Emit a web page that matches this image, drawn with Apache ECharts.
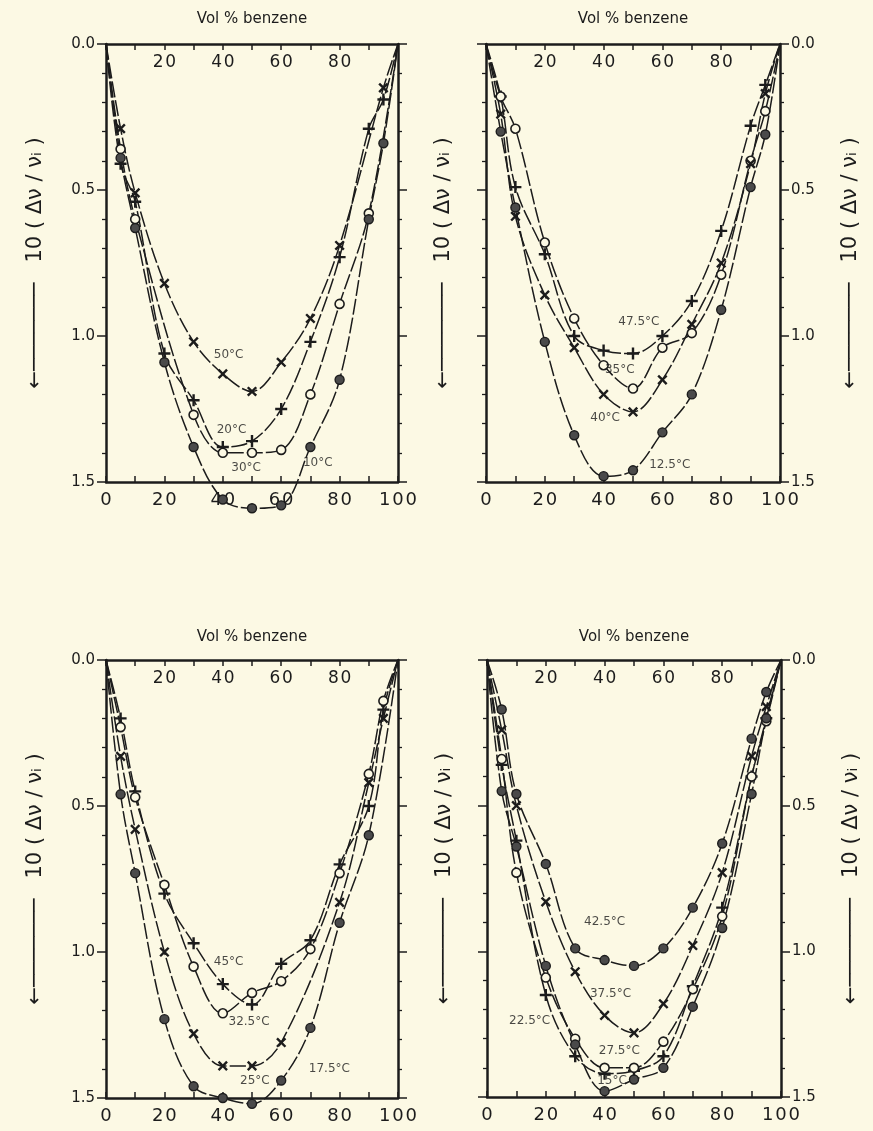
<!DOCTYPE html>
<html>
<head>
<meta charset="utf-8">
<script src="https://cdn.jsdelivr.net/npm/echarts/dist/echarts.min.js"></script>
<style>
  html, body { margin: 0; padding: 0; background: #fcf9e4; }
  #chart { width: 873px; height: 1131px; }
</style>
</head>
<body>
<div id="chart"></div>
<script>
  // vol % benzene where points were measured
  var volPct = [5, 10, 20, 30, 40, 50, 60, 70, 80, 90, 95];

  // top left panel
  var a50 = [0.29, 0.51, 0.82, 1.02, 1.13, 1.19, 1.09, 0.94, 0.69, null, 0.15];
  var a20 = [0.41, 0.54, 1.06, 1.22, 1.38, 1.36, 1.25, 1.02, 0.73, 0.29, 0.19];
  var a30 = [0.36, 0.60, null, 1.27, 1.40, 1.40, 1.39, 1.20, 0.89, 0.58, null];
  var a10 = [0.39, 0.63, 1.09, 1.38, 1.56, 1.59, 1.58, 1.38, 1.15, 0.60, 0.34];

  // top right panel
  var b475 = [0.18, 0.49, 0.72, 1.00, 1.05, 1.06, 1.00, 0.88, 0.64, 0.28, 0.14];
  var b35 = [0.18, 0.29, 0.68, 0.94, 1.10, 1.18, 1.04, 0.99, 0.79, 0.40, 0.23];
  var b40 = [0.24, 0.59, 0.86, 1.04, 1.20, 1.26, 1.15, 0.96, 0.75, 0.41, 0.17];
  var b125 = [0.30, 0.56, 1.02, 1.34, 1.48, 1.46, 1.33, 1.20, 0.91, 0.49, 0.31];

  // bottom left panel
  var c45 = [0.20, 0.45, 0.80, 0.97, 1.11, 1.18, 1.04, 0.96, 0.70, 0.50, 0.17];
  var c325 = [0.23, 0.47, 0.77, 1.05, 1.21, 1.14, 1.10, 0.99, 0.73, 0.39, 0.14];
  var c25 = [0.33, 0.58, 1.00, 1.28, 1.39, 1.39, 1.31, null, 0.83, 0.42, 0.20];
  var c175 = [0.46, 0.73, 1.23, 1.46, 1.50, 1.52, 1.44, 1.26, 0.90, 0.60, null];

  // bottom right panel
  var d425 = [0.17, 0.46, 0.70, 0.99, 1.03, 1.05, 0.99, 0.85, 0.63, 0.27, 0.11];
  var d375 = [0.24, 0.50, 0.83, 1.07, 1.22, 1.28, 1.18, 0.98, 0.73, 0.33, 0.16];
  var d225 = [0.36, 0.62, 1.15, 1.36, 1.42, 1.41, 1.36, 1.12, 0.85, 0.40, 0.20];
  var d275 = [0.34, 0.73, 1.09, 1.30, 1.40, 1.40, 1.31, 1.13, 0.88, 0.40, 0.21];
  var d15 = [0.45, 0.64, 1.05, 1.32, 1.48, 1.44, 1.40, 1.19, 0.92, 0.46, 0.20];

  var yTicks = [0.0, 0.5, 1.0, 1.5];
  var xTitle = 'Vol % benzene';
  var yTitle = '\u2190\u2500\u2500\u2500\u2500\u2500\u2500\u2500   10 ( \u0394\u03bd / \u03bd\u1d62 )';

  // curve labels: [text, vol %, value] per panel
  var tags = [
    [['50°C', 42, 1.065], ['20°C', 43, 1.32], ['30°C', 48, 1.45], ['10°C', 72.5, 1.435]],
    [['47.5°C', 52, 0.95], ['35°C', 45.5, 1.115], ['40°C', 40.5, 1.28], ['12.5°C', 62.5, 1.44]],
    [['45°C', 42, 1.035], ['32.5°C', 49, 1.24], ['25°C', 51, 1.44], ['17.5°C', 76.5, 1.40]],
    [['42.5°C', 40, 0.9], ['37.5°C', 42, 1.147], ['22.5°C', 14.5, 1.24], ['27.5°C', 45, 1.34], ['15°C', 42.5, 1.445]]
  ];

  var ink = '#1c1c1c';
  var paper = '#fcf9e4';
  var font = 'DejaVu Sans';

  var grids = [
    {left: 106, top: 44, width: 292, height: 438},
    {left: 486, top: 44, width: 294, height: 438},
    {left: 106, top: 660, width: 292, height: 438},
    {left: 487, top: 660, width: 294, height: 437}
  ];

  // marker shapes
  var plusPath = 'path://M4,0H6V4H10V6H6V10H4V6H0V4H4Z';
  var marks = {
    plus: {symbol: plusPath, symbolSize: 12, symbolRotate: 0, itemStyle: {color: ink}},
    cross: {symbol: plusPath, symbolSize: 12, symbolRotate: 45, itemStyle: {color: ink}},
    open: {symbol: 'circle', symbolSize: 9, symbolRotate: 0, itemStyle: {color: paper, borderColor: ink, borderWidth: 1.6}},
    dot: {symbol: 'circle', symbolSize: 9, symbolRotate: 0, itemStyle: {color: '#4a4a4a', borderColor: ink, borderWidth: 1.4}}
  };

  function spaced(v) {
    return String(v).split('').join('\u200a');
  }

  function curve(name, vals, mark, g) {
    var pts = [{value: [0, 0], symbol: 'none'}];
    for (var i = 0; i < volPct.length; i++) {
      if (vals[i] != null) pts.push([volPct[i], vals[i]]);
    }
    pts.push({value: [100, 0], symbol: 'none'});
    var m = marks[mark];
    return {
      name: name,
      type: 'line',
      xAxisIndex: 2 * g,
      yAxisIndex: 2 * g,
      smooth: 0.35,
      clip: false,
      symbol: m.symbol,
      symbolSize: m.symbolSize,
      symbolRotate: m.symbolRotate,
      itemStyle: m.itemStyle,
      lineStyle: {color: ink, width: 1.5, type: [16, 3]},
      data: pts,
      z: 3
    };
  }

  function tagSeries(g) {
    return {
      type: 'scatter',
      xAxisIndex: 2 * g,
      yAxisIndex: 2 * g,
      clip: false,
      symbolSize: 1,
      itemStyle: {color: 'transparent'},
      label: {
        show: true,
        position: 'inside',
        formatter: function(p) { return p.data[0]; },
        fontFamily: font,
        fontSize: 12,
        color: ink
      },
      encode: {x: 1, y: 2},
      data: tags[g],
      z: 4
    };
  }

  var axisLine = {show: true, onZero: false, lineStyle: {color: ink, width: 2.5}};

  var xAxis = [];
  var yAxis = [];
  grids.forEach(function(gr, g) {
    xAxis.push({
      gridIndex: g, type: 'value', position: 'bottom', min: 0, max: 100, interval: 10,
      axisLine: axisLine,
      axisTick: {inside: true, length: 6, lineStyle: {color: ink, width: 1.5}},
      splitLine: {show: false},
      axisLabel: {
        formatter: function(v) { return v % 20 === 0 ? spaced(v) : ''; },
        fontFamily: font, fontSize: 18, color: ink, margin: 9
      }
    });
    xAxis.push({
      gridIndex: g, type: 'value', position: 'top', min: 0, max: 100, interval: 10,
      axisLine: axisLine,
      axisTick: {inside: true, length: 6, lineStyle: {color: ink, width: 1.5}},
      splitLine: {show: false},
      axisLabel: {
        inside: true,
        formatter: function(v) { return (v % 20 === 0 && v > 0 && v < 100) ? spaced(v) : ''; },
        fontFamily: font, fontSize: 17, color: ink, margin: 10
      },
      name: xTitle, nameLocation: 'middle', nameGap: g < 2 ? 17 : 15,
      nameTextStyle: {fontFamily: font, fontSize: 15, color: ink}
    });
    var labelsLeft = (g % 2 === 0);
    [0, 1].forEach(function(side) {
      var withLabels = (side === 0) === labelsLeft;
      var ax = {
        gridIndex: g, type: 'value', position: side === 0 ? 'left' : 'right',
        inverse: true, min: 0, max: 1.5, interval: 0.5,
        axisLine: axisLine,
        axisTick: {show: true, inside: false, length: 9, lineStyle: {color: ink, width: 1.5}},
        minorTick: {show: true, splitNumber: 5, length: 4, lineStyle: {color: ink, width: 1.3}},
        splitLine: {show: false},
        axisLabel: {
          show: withLabels,
          formatter: function(v) { return yTicks.indexOf(v) >= 0 ? v.toFixed(1) : ''; },
          fontFamily: font, fontSize: 15, color: ink, margin: 11
        },
        name: yTitle, nameLocation: 'middle', nameRotate: 90,
        nameGap: withLabels ? 60 : 32,
        nameTextStyle: {fontFamily: font, fontSize: 21, color: ink}
      };
      // panels on the left carry the title only on their outer side
      if (labelsLeft && side === 1) ax.name = '';
      yAxis.push(ax);
    });
  });

  var series = [
    curve('50°C', a50, 'cross', 0),
    curve('20°C', a20, 'plus', 0),
    curve('30°C', a30, 'open', 0),
    curve('10°C', a10, 'dot', 0),
    curve('47.5°C', b475, 'plus', 1),
    curve('35°C', b35, 'open', 1),
    curve('40°C', b40, 'cross', 1),
    curve('12.5°C', b125, 'dot', 1),
    curve('45°C', c45, 'plus', 2),
    curve('32.5°C', c325, 'open', 2),
    curve('25°C', c25, 'cross', 2),
    curve('17.5°C', c175, 'dot', 2),
    curve('42.5°C', d425, 'dot', 3),
    curve('37.5°C', d375, 'cross', 3),
    curve('22.5°C', d225, 'plus', 3),
    curve('27.5°C', d275, 'open', 3),
    curve('15°C', d15, 'dot', 3)
  ];
  for (var g = 0; g < 4; g++) series.push(tagSeries(g));

  var chart = echarts.init(document.getElementById('chart'), null, {renderer: 'canvas'});
  chart.setOption({
    backgroundColor: paper,
    animation: false,
    grid: grids,
    xAxis: xAxis,
    yAxis: yAxis,
    series: series
  });
</script>
</body>
</html>
